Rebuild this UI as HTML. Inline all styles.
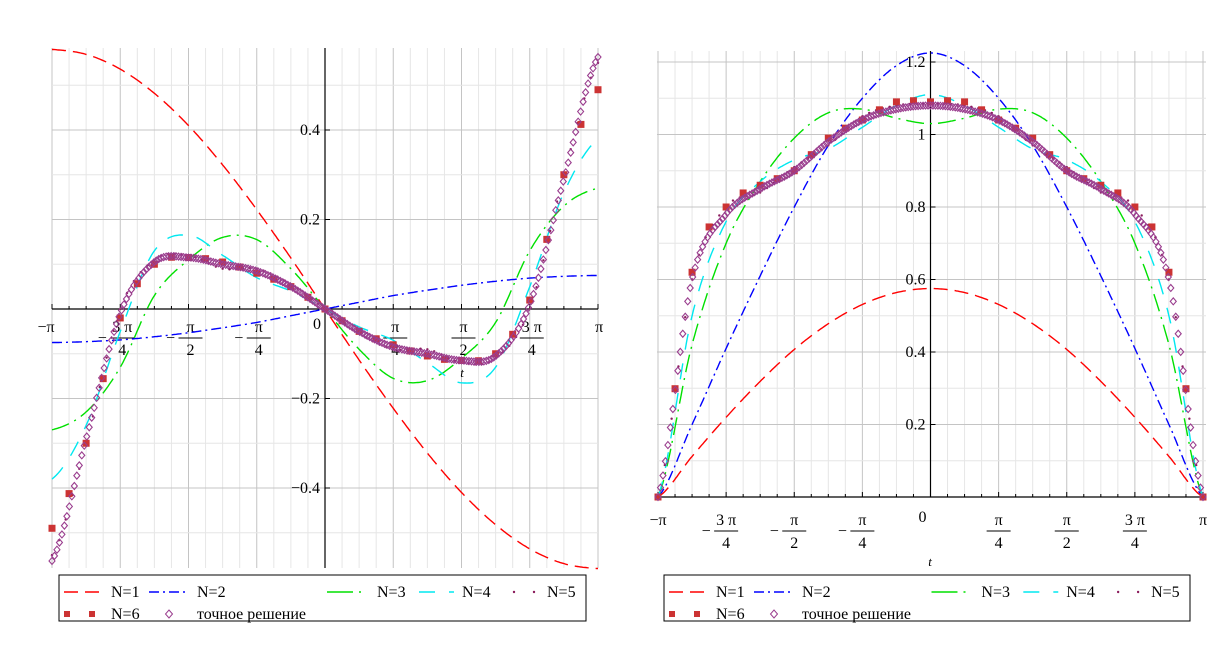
<!DOCTYPE html>
<html><head><meta charset="utf-8">
<style>
html,body{margin:0;padding:0;background:#fff;}
svg{display:block;font-family:"Liberation Serif",serif;}
</style></head>
<body>
<svg id="chart" width="1232" height="652" viewBox="0 0 1232 652"></svg>
<script>
// shared x samples in units of pi
const tCats = [-1,-0.875,-0.75,-0.625,-0.5,-0.375,-0.25,-0.125,0,0.125,0.25,0.375,0.5,0.625,0.75,0.875,1];
// LEFT chart values
const L_N1 = [0.58,0.569,0.536,0.482,0.41,0.322,0.222,0.114,0,-0.114,-0.222,-0.322,-0.41,-0.482,-0.536,-0.569,-0.58];
const L_N2 = [-0.075,-0.073,-0.069,-0.062,-0.053,-0.042,-0.03,-0.015,0,0.015,0.03,0.042,0.053,0.062,0.069,0.073,0.075];
const L_N3 = [-0.27,-0.23,-0.13,0.03,0.11,0.16,0.155,0.09,0,-0.09,-0.155,-0.16,-0.11,-0.03,0.13,0.23,0.27];
const L_N4 = [-0.38,-0.26,-0.05,0.13,0.165,0.12,0.07,0.04,0,-0.04,-0.07,-0.12,-0.165,-0.13,0.05,0.26,0.38];
const L_N5 = [-0.55,-0.3,0.0,0.11,0.12,0.09,0.09,0.055,0,-0.055,-0.09,-0.09,-0.12,-0.11,0.0,0.3,0.55];
const L_N6 = [-0.49,-0.3,-0.02,0.1,0.115,0.105,0.08,0.05,0,-0.05,-0.08,-0.105,-0.115,-0.1,0.02,0.3,0.49];
const L_EX = [-0.563,-0.29,-0.01,0.105,0.115,0.1,0.085,0.05,0,-0.05,-0.085,-0.1,-0.115,-0.105,0.01,0.29,0.563];
// RIGHT chart values
const R_N1 = [0,0.112,0.22,0.319,0.407,0.478,0.531,0.564,0.575,0.564,0.531,0.478,0.407,0.319,0.22,0.112,0];
const R_N2 = [0,0.2,0.41,0.61,0.8,0.97,1.1,1.19,1.225,1.19,1.1,0.97,0.8,0.61,0.41,0.2,0];
const R_N3 = [0,0.42,0.7,0.87,0.99,1.06,1.07,1.045,1.03,1.045,1.07,1.06,0.99,0.87,0.7,0.42,0];
const R_N4 = [0,0.5,0.76,0.87,0.93,0.96,1.02,1.08,1.11,1.08,1.02,0.96,0.93,0.87,0.76,0.5,0];
const R_N5 = [0,0.6,0.8,0.84,0.91,0.97,1.05,1.08,1.085,1.08,1.05,0.97,0.91,0.84,0.8,0.6,0];
const R_N6 = [0,0.62,0.8,0.86,0.9,0.99,1.04,1.09,1.09,1.09,1.04,0.99,0.9,0.86,0.8,0.62,0];
const R_EX = [0,0.6,0.78,0.85,0.9,0.98,1.04,1.07,1.08,1.07,1.04,0.98,0.9,0.85,0.78,0.6,0];
const yTicksL = [-0.4,-0.2,0.2,0.4];
const yTicksLLabels = ["−0.4","−0.2","0.2","0.4"];
const yTicksR = [0.2,0.4,0.6,0.8,1,1.2];
const yTicksRLabels = ["0.2","0.4","0.6","0.8","1","1.2"];

const NS="http://www.w3.org/2000/svg";
const svg=document.getElementById('chart');
function mk(tag,attrs,parent){const e=document.createElementNS(NS,tag);for(const k in attrs)e.setAttribute(k,attrs[k]);(parent||svg).appendChild(e);return e;}

function interp(ys,t){ // catmull-rom on uniform tCats
  const h=0.125;let i=Math.floor((t+1)/h);if(i>=ys.length-1)i=ys.length-2;if(i<0)i=0;
  const u=(t-tCats[i])/h;
  const p0=ys[Math.max(i-1,0)],p1=ys[i],p2=ys[i+1],p3=ys[Math.min(i+2,ys.length-1)];
  return 0.5*((2*p1)+(-p0+p2)*u+(2*p0-5*p1+4*p2-p3)*u*u+(-p0+3*p1-3*p2+p3)*u*u*u);
}

function makePanel(cfg){
  const g=mk('g',{});
  
  
  const X=t=>cfg.x0+(t+1)/2*(cfg.x1-cfg.x0);
  const Y=v=>cfg.yZero-v*cfg.ppu;
  const grid=mk('g',{},g);
  
  
  for(let k=-16;k<=16;k++){const t=k/16;const major=k%4===0;
    mk('line',{x1:X(t),x2:X(t),y1:cfg.gTop,y2:cfg.gBot,stroke:major?'#c4c4c4':'#e6e6e6','stroke-width':1},grid);}
  for(let v=cfg.vMin;v<=cfg.vMax+1e-9;v+=0.1){const vv=Math.round(v*10)/10;const major=Math.abs(Math.round(vv*10))%2===0;
    const y=Y(vv);if(y<cfg.gTop-1||y>cfg.gBot+1)continue;
    mk('line',{x1:cfg.gLeft,x2:cfg.gRight,y1:y,y2:y,stroke:major?'#c4c4c4':'#e6e6e6','stroke-width':1},grid);}
  const ax=mk('g',{},g);
  
  
  mk('line',{x1:X(0),x2:X(0),y1:cfg.gTop,y2:cfg.gBot,stroke:'#000','stroke-width':1.2},ax);
  mk('line',{x1:cfg.gLeft,x2:cfg.gRight,y1:cfg.axisY,y2:cfg.axisY,stroke:'#000','stroke-width':1.2},ax);
  for(let k=-16;k<=16;k++){const t=k/16;const L=k%4===0?5:3;
    mk('line',{x1:X(t),x2:X(t),y1:cfg.axisY-L,y2:cfg.axisY,stroke:'#000'},ax);}
  cfg.yT.forEach((v,i)=>{mk('line',{x1:X(0),x2:X(0)+5,y1:Y(v),y2:Y(v),stroke:'#000'},ax);
    const tx=mk('text',{x:X(0)-5,y:Y(v)+5,'font-size':16,'text-anchor':'end'},ax);tx.textContent=cfg.yL[i];
    
    });
  const ly=cfg.labY;
  const lab=(x,y,s,anchor)=>{const t=mk('text',{x:x,y:y,'font-size':16,'text-anchor':anchor||'middle'},ax);t.textContent=s;
    
    return t;};
  lab(X(-1)+(cfg.piOff||0),ly,'−π');lab(X(1)+(cfg.piOff||0)*-0.2,ly,'π');
  lab(X(0)-8,ly-3,'0');
  const frac=(t,num,den,neg)=>{const cx=X(t)+cfg.fracOff;
    lab(cx,ly,num);mk('line',{x1:cx-12,x2:cx+12,y1:ly+6,y2:ly+6,stroke:'#000'},ax);lab(cx,ly+23,den);
    if(neg)lab(cx-20,ly+11,'−');};
  frac(-0.75,'3 π','4',true);frac(-0.5,'π','2',true);frac(-0.25,'π','4',true);
  frac(0.25,'π','4');frac(0.5,'π','2');frac(0.75,'3 π','4');
  const tl=mk('text',{x:cfg.tX,y:cfg.tY,'font-size':13,'font-style':'italic','text-anchor':'middle'},ax);tl.textContent='t';
  
  
  const clipId='clip'+cfg.name;
  const cp=mk('clipPath',{id:clipId},g);mk('rect',{x:cfg.gLeft-6,y:cfg.gTop-8,width:cfg.gRight-cfg.gLeft+12,height:cfg.gBot-cfg.gTop+16},cp);
  const sg=mk('g',{'clip-path':'url(#'+clipId+')'},g);
  const line=(ys,color,dash,name)=>{let d='';for(let i=0;i<=400;i++){const t=-1+2*i/400;d+=(i?'L':'M')+X(t).toFixed(1)+','+Y(interp(ys,t)).toFixed(1);}
    const p=mk('path',{d:d,fill:'none',stroke:color,'stroke-width':1.4,'stroke-dasharray':dash},sg);
    
    };
  line(cfg.s[0],'#ff0000','14,7','series-n1');
  line(cfg.s[1],'#0000ff','10,4,2,4','series-n2');
  line(cfg.s[2],'#00e000','18,6,2,6','series-n3');
  line(cfg.s[3],'#00e8f0','16,14','series-n4');
  const g5=mk('g',{fill:'#8b1c5c'},sg);
  
  
  for(let i=0;i<=80;i++){const t=-1+2*i/80;mk('circle',{cx:X(t),cy:Y(interp(cfg.s[4],t)),r:1.2},g5);}
  const g6=mk('g',{fill:'#cc3333'},sg);
  
  
  for(let i=0;i<=32;i++){const t=-1+2*i/32;mk('rect',{x:X(t)-3.5,y:Y(interp(cfg.s[5],t))-3.5,width:7,height:7},g6);}
  const ge=mk('g',{fill:'none',stroke:'#9a3d8e','stroke-width':1.1},sg);
  
  
  for(let i=0;i<=220;i++){const t=-1+2*i/220;const x=X(t),y=Y(interp(cfg.s[6],t));
    mk('path',{d:`M${x},${y-3.5}L${x+3},${y}L${x},${y+3.5}L${x-3},${y}Z`},ge);}
  const lg=mk('g',{},g);
  
  
  const lx=cfg.legX;
  mk('rect',{x:lx,y:575,width:cfg.legW,height:46,fill:'#fff',stroke:'#000','stroke-width':1},lg);
  const r1=592,r2=614;
  const ltext=(x,y,s)=>{const t=mk('text',{x:x,y:y+5,'font-size':16},lg);t.textContent=s;
    
    };
  const w=cfg.legW/527;
  mk('line',{x1:lx+5,x2:lx+40,y1:r1,y2:r1,stroke:'#ff0000','stroke-width':1.4,'stroke-dasharray':'14,7'},lg);ltext(lx+52,r1,'N=1');
  mk('line',{x1:lx+90,x2:lx+128,y1:r1,y2:r1,stroke:'#0000ff','stroke-width':1.4,'stroke-dasharray':'10,4,2,4'},lg);ltext(lx+138,r1,'N=2');
  mk('line',{x1:lx+268*w,x2:lx+306*w,y1:r1,y2:r1,stroke:'#00e000','stroke-width':1.4,'stroke-dasharray':'26,6,2,6'},lg);ltext(lx+318*w,r1,'N=3');
  mk('line',{x1:lx+360*w,x2:lx+395*w,y1:r1,y2:r1,stroke:'#00e8f0','stroke-width':1.4,'stroke-dasharray':'16,14'},lg);ltext(lx+403*w,r1,'N=4');
  mk('circle',{cx:lx+455*w,cy:r1,r:1.2,fill:'#8b1c5c'},lg);mk('circle',{cx:lx+475*w,cy:r1,r:1.2,fill:'#8b1c5c'},lg);ltext(lx+488*w,r1,'N=5');
  mk('rect',{x:lx+5,y:r2-3,width:6,height:6,fill:'#cc3333'},lg);mk('rect',{x:lx+30,y:r2-3,width:6,height:6,fill:'#cc3333'},lg);ltext(lx+52,r2,'N=6');
  const dx=lx+110;mk('path',{d:`M${dx},${r2-4}L${dx+3.5},${r2}L${dx},${r2+4}L${dx-3.5},${r2}Z`,fill:'none',stroke:'#9a3d8e'},lg);
  ltext(lx+138,r2,'точное решение');
}

makePanel({name:'left-plot',x0:52,x1:598,yZero:309,ppu:447.5,gTop:48,gBot:568,gLeft:52,gRight:598,vMin:-0.6,vMax:0.6,
  axisY:309,yT:yTicksL,yL:yTicksLLabels,labY:332,fracOff:2,piOff:-6,tX:462,tY:377,legX:59,legW:527,
  s:[L_N1,L_N2,L_N3,L_N4,L_N5,L_N6,L_EX]});
makePanel({name:'right-plot',x0:658,x1:1203,yZero:497,ppu:362.5,gTop:51,gBot:497,gLeft:657,gRight:1206,vMin:0,vMax:1.3,
  axisY:497,yT:yTicksR,yL:yTicksRLabels,labY:525,fracOff:0,piOff:0,tX:930,tY:566,legX:664,legW:526,
  s:[R_N1,R_N2,R_N3,R_N4,R_N5,R_N6,R_EX]});
</script>
</body></html>
